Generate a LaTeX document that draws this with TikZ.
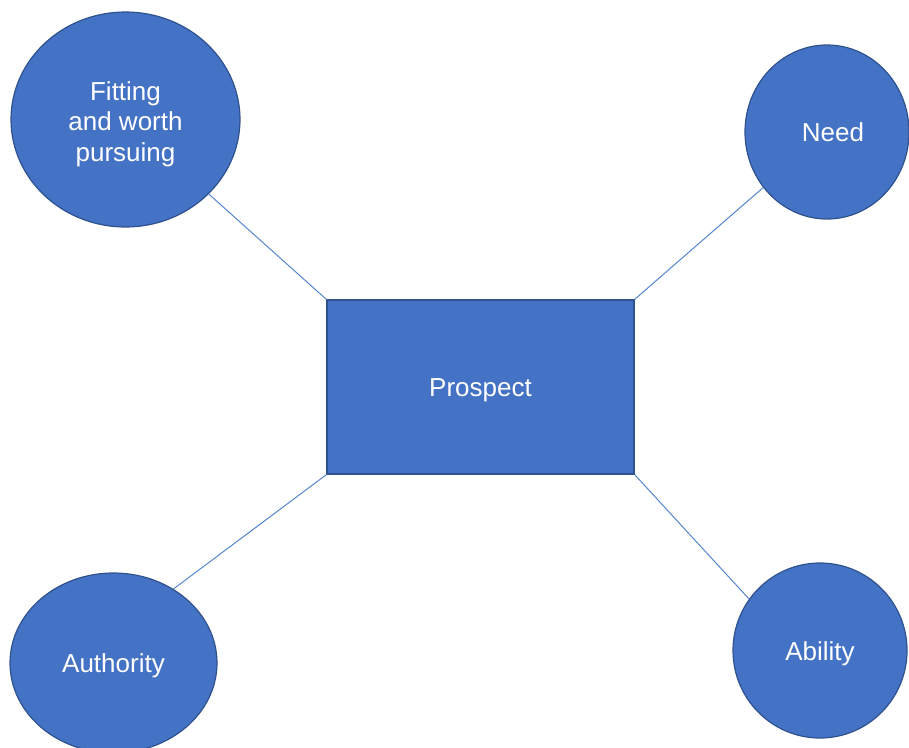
\documentclass[tikz,border=0pt]{standalone}
\usepackage{fontspec}
\setmainfont{Liberation Sans}
\usetikzlibrary{shapes.geometric}
\definecolor{accent}{HTML}{4472C4}
\definecolor{accentdark}{HTML}{2F528F}
\definecolor{linkblue}{HTML}{5585D0}
\begin{document}
\begin{tikzpicture}[x=1pt,y=-1pt,
  label font/.style={font=\fontsize{26}{30.5}\selectfont, text=white},
  bubble/.style={ellipse, fill=accent, draw=accentdark, line width=1.2pt,
    inner sep=0pt, label font, text height=19pt, text depth=0pt},
  hub/.style={rectangle, fill=accent, draw=accentdark, line width=1.2pt,
    inner sep=0pt, label font, text height=19pt, text depth=0pt,
    minimum width=307pt, minimum height=174pt},
  link/.style={draw=linkblue, line width=1pt}]
\useasboundingbox (0,0) rectangle (909,747);

\node[hub] (prospect) at (480.5,387) {Prospect};

\node[bubble, align=center, text height=83pt, text depth=0pt,
  minimum width=229pt, minimum height=215pt] (fit) at (125.5,119.5)
  {Fitting\\and worth\\pursuing};
\node[bubble, minimum width=164pt, minimum height=174pt] (need) at (827,132)
  {\hspace*{12pt}Need};
\node[bubble, minimum width=207pt, minimum height=180pt] (auth) at (113.5,663)
  {Authority};
\node[bubble, minimum width=174pt, minimum height=175pt] (abil) at (820,650.5)
  {Ability};

\draw[link] (prospect.north west) -- (fit);
\draw[link] (prospect.north east) -- (need);
\draw[link] (prospect.south west) -- (auth.51);
\draw[link] (prospect.south east) -- (abil.144);
\end{tikzpicture}
\end{document}
